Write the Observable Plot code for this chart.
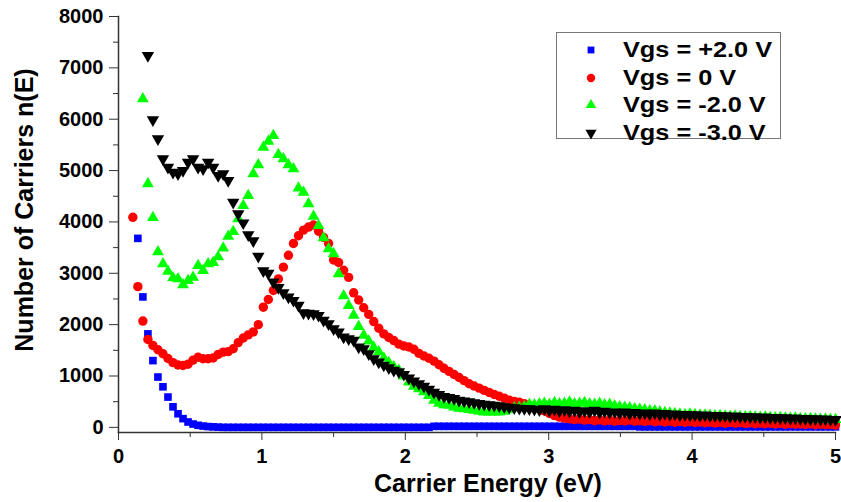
<!DOCTYPE html>
<html><head><meta charset="utf-8">
<script src="https://cdn.jsdelivr.net/npm/d3@7"></script>
<script src="https://cdn.jsdelivr.net/npm/@observablehq/plot@0.6"></script>
<style>
body{margin:0;background:#fff;}
#wrap{position:relative;width:841px;height:502px;font-family:"Liberation Sans",Arial,sans-serif;font-weight:bold;color:#000;}
#chart svg{display:block;}
.lbl{position:absolute;white-space:nowrap;font-weight:bold;}
#xlabel{left:488px;top:483px;font-size:25px;transform:translate(-50%,-50%);}
#ylabel{left:24px;top:210px;font-size:25px;transform:translate(-50%,-50%) rotate(-90deg);}
#legend{position:absolute;left:556px;top:32px;width:225px;height:107px;border:1px solid #777;background:#fff;box-sizing:border-box;}
.row{position:absolute;left:0;height:28px;width:100%;}
.row svg{position:absolute;left:24px;top:4px;}
.row span{position:absolute;left:66px;top:50%;font-size:22px;line-height:22px;transform:translateY(-50%) scaleX(1.15);transform-origin:left center;white-space:nowrap;}
</style></head>
<body>
<div id="wrap"><div id="chart"></div>
<div id="xlabel" class="lbl"></div><div id="ylabel" class="lbl"></div>
<div id="legend"></div></div>
<script>
const energy = [0.100,0.135,0.170,0.205,0.240,0.275,0.310,0.345,0.380,0.415,0.450,0.485,0.520,0.555,0.590,0.625,0.660,0.695,0.730,0.765,0.800,0.835,0.870,0.905,0.940,0.975,1.010,1.045,1.080,1.115,1.150,1.185,1.220,1.255,1.290,1.325,1.360,1.395,1.430,1.465,1.500,1.535,1.570,1.605,1.640,1.675,1.710,1.745,1.780,1.815,1.850,1.885,1.920,1.955,1.990,2.025,2.060,2.095,2.130,2.165,2.200,2.235,2.270,2.305,2.340,2.375,2.410,2.445,2.480,2.515,2.550,2.585,2.620,2.655,2.690,2.725,2.760,2.795,2.830,2.865,2.900,2.935,2.970,3.005,3.040,3.075,3.110,3.145,3.180,3.215,3.250,3.285,3.320,3.355,3.390,3.425,3.460,3.495,3.530,3.565,3.600,3.635,3.670,3.705,3.740,3.775,3.810,3.845,3.880,3.915,3.950,3.985,4.020,4.055,4.090,4.125,4.160,4.195,4.230,4.265,4.300,4.335,4.370,4.405,4.440,4.475,4.510,4.545,4.580,4.615,4.650,4.685,4.720,4.755,4.790,4.825,4.860,4.895,4.930,4.965,5.000];

const vgsPlus2 = [null,3680,2540,1820,1300,980,790,590,400,265,170,105,65,40,25,15,10,5,0,0,
0,0,0,0,0,0,0,0,0,0,0,0,0,0,0,0,0,0,0,0,
0,0,0,0,0,0,0,0,0,0,0,0,0,0,0,0,0,0,0,0,
20,20,20,20,20,20,20,20,20,20,20,20,20,20,20,20,20,20,20,20,
20,20,20,20,20,20,20,20,20,20,20,20,20,20,20,20,20,20,20,20,
20,10,10,10,10,10,10,10,10,10,10,10,10,10,10,10,10,10,10,10,
10,10,10,10,10,10,10,10,10,10,10,10,10,10,10,10,10,10,10,10,10];

const vgs0 = [4090,2740,2070,1712,1595,1512,1433,1340,1260,1215,1206,1230,1310,1365,1336,1336,1350,1420,1465,1475,
1530,1650,1740,1800,1860,2000,2340,2490,2665,2890,3120,3350,3580,3730,3840,3900,3940,3820,3700,3580,
3260,3210,3060,2920,2620,2480,2330,2200,2060,1930,1820,1750,1690,1620,1585,1565,1520,1440,1390,1345,
1290,1220,1150,1090,1030,970,910,850,805,765,720,680,640,605,570,530,505,490,460,430,
400,370,320,270,230,200,180,165,150,160,140,150,130,145,125,140,120,135,125,140,
120,130,115,130,110,125,105,120,100,115,100,110,95,105,90,100,85,95,80,95,
80,90,75,85,70,80,70,80,65,75,60,70,60,65,55,65,50,60,50,55,45];

const vgsMinus2 = [null,null,6395,4740,4085,3420,3185,3040,2910,2890,2775,2860,2920,3150,3054,3185,3210,3320,3490,3720,
3810,4060,4320,4514,4935,5110,5453,5570,5681,5310,5227,5110,5033,4660,4578,4352,4110,3930,3690,3477,
3379,2990,2560,2370,2180,1960,1790,1680,1560,1470,1350,1260,1180,1110,1000,880,800,750,690,620,
525,470,440,430,395,370,360,345,330,310,300,298,300,298,310,340,380,390,400,450,
440,460,470,450,480,460,470,490,460,470,480,460,450,470,440,450,420,400,390,380,
360,350,340,320,320,300,290,280,270,260,250,260,250,240,240,230,225,230,220,215,
220,210,205,210,200,195,200,190,185,190,180,175,180,170,165,170,160,155,160,150,150];

const vgsMinus3 = [null,null,null,7237,5986,5617,5227,5065,4967,4935,5000,5162,5227,5065,5033,5162,5065,4903,4935,4805,
4383,4157,3980,3750,3630,3330,3050,3000,2830,2720,2620,2535,2471,2374,2230,2220,2212,2179,2082,2017,
1920,1854,1757,1725,1693,1562,1531,1433,1336,1270,1210,1160,1110,1080,1030,960,900,850,800,740,
680,640,600,580,560,525,510,495,480,465,450,440,430,420,400,390,380,370,365,360,
350,340,360,330,350,320,340,310,330,300,320,300,330,290,310,290,300,280,300,270,
290,270,280,260,280,250,270,250,260,240,250,240,245,230,240,225,230,220,225,210,
220,205,210,200,205,190,200,185,190,180,185,170,180,165,170,160,165,155,160,150,150];

const seriesNames = ["Vgs = +2.0 V", "Vgs = 0 V", "Vgs = -2.0 V", "Vgs = -3.0 V"];
const seriesColors = ["#0000ff", "#ff0000", "#00ff00", "#000000"];
const xTicks = [0, 1, 2, 3, 4, 5];
const xMinorTicks = [0.5, 1.5, 2.5, 3.5, 4.5];
const yTicks = [0, 1000, 2000, 3000, 4000, 5000, 6000, 7000, 8000];
const yMinorTicks = [500, 1500, 2500, 3500, 4500, 5500, 6500, 7500];
const xDomain = [0, 5];
const yDomain = [-100, 8000];
const xTitle = "Carrier Energy (eV)";
const yTitle = "Number of Carriers n(E)";

const triangleDown = {
  draw(context, size) {
    const y = -Math.sqrt(size / (Math.sqrt(3) * 3));
    context.moveTo(0, -y * 2);
    context.lineTo(-Math.sqrt(3) * y, y);
    context.lineTo(Math.sqrt(3) * y, y);
    context.closePath();
  }
};
const symbols = ["square", "circle", "triangle", triangleDown];
const radii = [4.3, 4.7, 4.4, 4.6];
const series = [vgsPlus2, vgs0, vgsMinus2, vgsMinus3];

const tables = series.map(arr => energy.map((e, i) => ({e, n: arr[i]})).filter(d => d.n != null));

const chart = Plot.plot({
  width: 841, height: 502,
  marginLeft: 118, marginRight: 6, marginTop: 16, marginBottom: 70,
  x: {domain: xDomain},
  y: {domain: yDomain},
  style: {fontFamily: "'Liberation Sans', Arial, sans-serif", fontWeight: "bold", color: "#000", background: "#fff"},
  marks: [
    ...tables.map((t, k) => Plot.dot(t, {x: "e", y: "n", symbol: () => symbols[k], fill: seriesColors[k], r: radii[k], stroke: "none"})),
    Plot.frame({anchor: "left", stroke: "#333", strokeWidth: 1.5}),
    Plot.frame({anchor: "bottom", stroke: "#333", strokeWidth: 1.5}),
    Plot.axisY(yTicks, {tickSize: 9, tickPadding: 6, fontSize: 20, label: null, stroke: "#333", tickFormat: d => String(d)}),
    Plot.axisY(yMinorTicks, {tickSize: 5, tickFormat: () => "", label: null, stroke: "#333"}),
    Plot.axisX(xTicks, {tickSize: 8, tickPadding: 8, fontSize: 20, label: null, stroke: "#333", tickFormat: d => String(d)}),
    Plot.axisX(xMinorTicks, {tickSize: 5, tickFormat: () => "", label: null, stroke: "#333"})
  ]
});
document.getElementById("chart").appendChild(chart);
document.getElementById("xlabel").textContent = xTitle;
document.getElementById("ylabel").textContent = yTitle;

const legend = document.getElementById("legend");
const rowTops = [3, 31, 58, 86];
seriesNames.forEach((name, k) => {
  const row = document.createElement("div");
  row.className = "row";
  row.style.top = rowTops[k] + "px";
  const svg = d3.create("svg").attr("width", 20).attr("height", 20);
  const sym = typeof symbols[k] === "string"
    ? {square: d3.symbolSquare, circle: d3.symbolCircle, triangle: d3.symbolTriangle}[symbols[k]]
    : symbols[k];
  svg.append("path").attr("transform", "translate(10,10)")
    .attr("d", d3.symbol(sym, Math.PI * radii[k] * radii[k] * 0.8)())
    .attr("fill", seriesColors[k]);
  row.appendChild(svg.node());
  const span = document.createElement("span");
  span.textContent = name;
  row.appendChild(span);
  legend.appendChild(row);
});
</script>
</body></html>
